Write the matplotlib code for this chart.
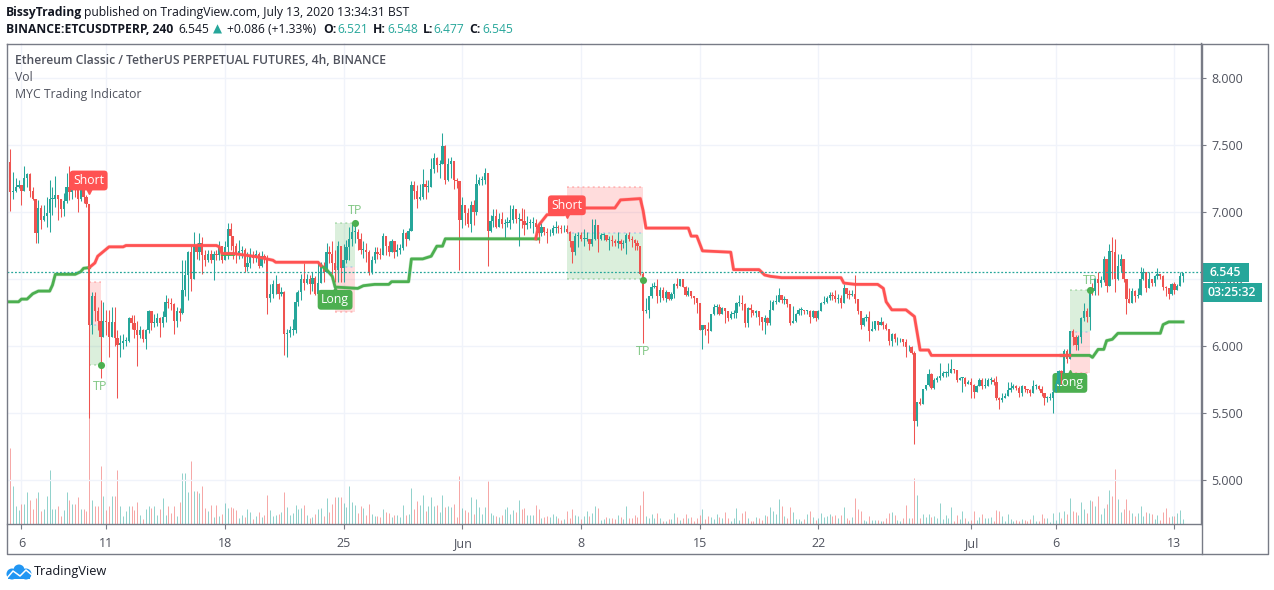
import matplotlib
matplotlib.use('Agg')
import matplotlib.pyplot as plt
from matplotlib.patches import Rectangle, Circle

FONT = 'Open Sans'
TEAL = '#26a69a'
RED = '#ef5350'
LINE_RED = '#ff5252'
LINE_GREEN = '#4caf50'
GRID = '#f0f3fa'
FRAME = '#787b86'
TEXT = '#50535e'
W, H = 1274, 590

first_open = 7.26
closes = [
    7.37,7.15,7.16,7.19,7.20,7.16,7.25,7.28,7.16,7.10,
    6.84,7.03,6.94,6.97,6.99,7.10,7.10,7.13,7.10,7.02,
    7.08,7.19,7.15,7.24,7.20,7.10,7.20,7.11,7.06,6.16,
    6.37,6.26,6.19,6.07,6.19,6.18,6.07,6.18,6.06,6.01,
    6.02,6.04,6.04,6.21,6.17,6.12,6.08,6.12,6.05,6.12,
    6.26,6.17,6.17,6.21,6.17,6.22,6.33,6.32,6.31,6.19,
    6.26,6.25,6.42,6.53,6.70,6.50,6.75,6.70,6.77,6.68,
    6.64,6.69,6.64,6.69,6.68,6.75,6.64,6.74,6.87,6.82,
    6.75,6.68,6.71,6.72,6.59,6.62,6.67,6.66,6.69,6.60,
    6.67,6.65,6.36,6.39,6.46,6.46,6.39,6.40,6.09,6.10,
    6.12,6.12,6.33,6.40,6.50,6.47,6.50,6.46,6.51,6.39,
    6.47,6.60,6.55,6.70,6.69,6.62,6.57,6.75,6.58,6.64,
    6.74,6.80,6.85,6.85,6.80,6.72,6.72,6.70,6.55,6.64,
    6.70,6.69,6.68,6.82,6.75,6.70,6.78,6.70,6.72,6.73,
    6.84,6.80,6.86,7.20,7.16,7.10,7.11,7.21,7.19,7.19,
    7.32,7.40,7.35,7.36,7.49,7.24,7.36,7.38,7.24,7.23,
    6.94,7.05,6.99,6.91,7.05,7.00,7.21,7.24,7.24,7.29,
    6.86,6.93,6.97,6.89,6.95,6.91,6.92,6.92,6.94,7.02,
    6.95,6.95,6.93,6.90,6.92,6.92,6.92,6.89,6.84,6.89,
    6.85,6.84,6.84,6.88,6.89,6.88,6.87,6.87,6.85,6.78,
    6.70,6.82,6.83,6.80,6.80,6.80,6.76,6.80,6.90,6.80,
    6.83,6.83,6.79,6.79,6.78,6.77,6.78,6.76,6.77,6.83,
    6.80,6.79,6.77,6.75,6.54,6.26,6.27,6.37,6.44,6.45,
    6.37,6.42,6.36,6.40,6.35,6.39,6.46,6.45,6.50,6.44,
    6.38,6.41,6.37,6.36,6.32,6.12,6.16,6.13,6.11,6.24,
    6.29,6.29,6.24,6.28,6.26,6.21,6.24,6.25,6.32,6.32,
    6.31,6.17,6.28,6.27,6.25,6.26,6.22,6.18,6.21,6.17,
    6.27,6.33,6.33,6.38,6.34,6.35,6.31,6.17,6.19,6.24,
    6.27,6.27,6.26,6.26,6.22,6.26,6.21,6.26,6.32,6.33,
    6.36,6.38,6.37,6.35,6.36,6.32,6.43,6.39,6.38,6.39,
    6.35,6.26,6.16,6.21,6.22,6.11,6.13,6.19,6.16,6.18,
    6.16,6.13,6.04,6.09,6.05,6.05,6.05,6.03,5.99,5.99,
    5.95,5.44,5.58,5.57,5.68,5.71,5.79,5.69,5.75,5.76,
    5.78,5.80,5.80,5.80,5.83,5.82,5.75,5.76,5.76,5.72,
    5.73,5.71,5.66,5.70,5.75,5.70,5.70,5.75,5.75,5.73,
    5.61,5.60,5.61,5.63,5.67,5.69,5.70,5.69,5.65,5.70,
    5.68,5.67,5.65,5.70,5.70,5.68,5.65,5.61,5.61,5.61,
    5.66,5.72,5.81,5.80,5.96,5.90,6.11,6.07,6.01,6.07,
    6.21,6.26,6.22,6.43,6.41,6.50,6.47,6.49,6.65,6.45,
    6.71,6.70,6.50,6.60,6.65,6.50,6.35,6.32,6.41,6.37,
    6.38,6.50,6.55,6.43,6.50,6.47,6.52,6.54,6.52,6.44,
    6.43,6.39,6.46,6.42,6.45,6.52,6.545,
]
highs = [
    7.49,7.47,7.30,7.25,7.24,7.20,7.34,7.29,7.29,7.19,
    7.10,7.09,7.05,7.05,7.11,7.24,7.19,7.27,7.13,7.10,
    7.14,7.29,7.34,7.29,7.29,7.24,7.28,7.20,7.13,7.06,
    6.40,6.40,6.29,6.34,6.33,6.27,6.27,6.29,6.29,6.12,
    6.08,6.09,6.07,6.22,6.23,6.23,6.19,6.15,6.13,6.13,
    6.27,6.26,6.24,6.25,6.22,6.26,6.38,6.36,6.36,6.32,
    6.29,6.28,6.64,6.64,6.71,6.75,6.85,6.77,6.84,6.81,
    6.72,6.72,6.72,6.71,6.72,6.78,6.74,6.78,6.92,6.92,
    6.82,6.77,6.79,6.75,6.73,6.70,6.73,6.71,6.72,6.70,
    6.71,6.69,6.68,6.46,6.49,6.53,6.47,6.44,6.41,6.13,
    6.15,6.20,6.40,6.42,6.54,6.62,6.54,6.53,6.55,6.52,
    6.62,6.63,6.63,6.77,6.75,6.78,6.72,6.78,6.75,6.76,
    6.79,6.89,6.92,6.90,6.87,6.84,6.78,6.77,6.72,6.67,
    6.74,6.74,6.73,6.84,6.82,6.78,6.80,6.78,6.76,6.76,
    6.87,6.85,6.88,7.23,7.23,7.20,7.21,7.32,7.24,7.24,
    7.40,7.44,7.41,7.39,7.59,7.50,7.40,7.41,7.38,7.25,
    7.23,7.11,7.05,7.03,7.08,7.09,7.28,7.26,7.27,7.33,
    7.29,6.98,7.02,7.02,6.99,7.00,6.95,6.96,7.05,7.05,
    7.02,6.99,7.03,7.02,6.97,6.95,6.96,6.95,6.90,6.92,
    6.89,6.88,6.87,6.90,6.93,6.90,6.90,6.90,6.90,6.86,
    6.78,6.84,6.85,6.85,6.87,6.85,6.80,6.95,6.95,6.90,
    6.84,6.84,6.83,6.82,6.83,6.80,6.85,6.80,6.79,6.84,
    6.85,6.82,6.80,6.79,6.75,6.55,6.36,6.37,6.47,6.48,
    6.50,6.44,6.44,6.42,6.40,6.40,6.47,6.51,6.50,6.50,
    6.45,6.44,6.41,6.37,6.36,6.32,6.16,6.16,6.18,6.24,
    6.31,6.31,6.31,6.29,6.28,6.26,6.26,6.27,6.33,6.38,
    6.38,6.32,6.29,6.31,6.27,6.27,6.26,6.22,6.23,6.22,
    6.34,6.34,6.38,6.43,6.38,6.37,6.35,6.31,6.30,6.25,
    6.28,6.29,6.27,6.27,6.27,6.27,6.26,6.27,6.33,6.37,
    6.37,6.40,6.40,6.42,6.39,6.38,6.46,6.43,6.42,6.42,
    6.53,6.35,6.26,6.22,6.24,6.26,6.19,6.19,6.19,6.22,
    6.19,6.17,6.13,6.10,6.10,6.07,6.06,6.05,6.05,6.01,
    6.00,5.96,5.58,5.61,5.68,5.71,5.83,5.80,5.76,5.78,
    5.87,5.81,5.81,5.87,5.90,5.83,5.82,5.77,5.77,5.77,
    5.75,5.76,5.72,5.71,5.76,5.76,5.76,5.76,5.77,5.76,
    5.78,5.62,5.65,5.65,5.73,5.73,5.72,5.71,5.70,5.71,
    5.70,5.68,5.68,5.75,5.72,5.71,5.70,5.65,5.63,5.65,
    5.68,5.75,5.82,5.82,5.98,5.98,6.11,6.13,6.08,6.08,
    6.22,6.32,6.28,6.44,6.47,6.51,6.55,6.52,6.67,6.65,
    6.76,6.81,6.80,6.69,6.69,6.65,6.50,6.43,6.43,6.42,
    6.43,6.59,6.58,6.55,6.55,6.50,6.53,6.58,6.54,6.53,
    6.45,6.43,6.47,6.48,6.46,6.55,6.548,
]
lows = [
    7.26,7.01,7.10,7.15,7.18,7.05,7.19,7.19,7.11,7.09,
    6.77,6.77,6.87,6.93,6.89,6.85,6.98,7.04,6.94,6.96,
    6.97,7.07,7.09,7.10,7.11,7.00,7.08,7.07,7.04,5.46,
    6.09,6.19,6.12,5.76,6.07,6.08,5.92,6.07,6.00,5.61,
    5.92,5.98,6.00,6.03,6.13,6.06,5.85,6.06,6.03,5.98,
    6.10,6.12,6.14,6.15,6.07,6.14,6.18,6.28,6.27,6.09,
    6.14,6.19,6.24,6.37,6.34,6.41,6.50,6.65,6.64,6.54,
    6.60,6.63,6.62,6.49,6.64,6.64,6.62,6.64,6.65,6.72,
    6.65,6.62,6.65,6.66,6.55,6.56,6.58,6.62,6.63,6.58,
    6.59,6.62,6.24,6.33,6.36,6.39,6.35,6.37,5.93,5.92,
    6.07,6.08,6.10,6.30,6.34,6.42,6.46,6.39,6.41,6.38,
    6.39,6.47,6.48,6.55,6.62,6.54,6.48,6.48,6.48,6.48,
    6.62,6.64,6.75,6.77,6.72,6.69,6.66,6.63,6.53,6.54,
    6.62,6.65,6.65,6.68,6.68,6.67,6.70,6.66,6.67,6.69,
    6.72,6.75,6.79,6.86,7.10,7.03,7.09,7.10,7.10,7.15,
    7.19,7.29,7.30,7.25,7.36,7.21,7.23,7.25,7.17,7.18,
    6.57,6.88,6.90,6.89,6.85,6.90,6.98,7.20,7.20,7.21,
    6.60,6.85,6.89,6.88,6.89,6.88,6.80,6.89,6.87,6.92,
    6.92,6.75,6.88,6.83,6.87,6.88,6.84,6.87,6.77,6.82,
    6.83,6.77,6.82,6.83,6.84,6.84,6.84,6.85,6.84,6.74,
    6.62,6.68,6.74,6.78,6.75,6.78,6.72,6.75,6.79,6.70,
    6.79,6.79,6.78,6.72,6.75,6.75,6.73,6.72,6.73,6.69,
    6.78,6.74,6.72,6.72,6.53,6.02,6.25,6.21,6.36,6.43,
    6.32,6.33,6.34,6.33,6.34,6.34,6.36,6.43,6.45,6.44,
    6.37,6.37,6.36,6.31,6.25,6.12,5.98,6.08,6.02,6.17,
    6.23,6.24,6.23,6.24,6.17,6.19,6.20,6.21,6.21,6.30,
    6.27,6.14,6.14,6.22,6.23,6.22,6.16,6.12,6.09,6.16,
    6.16,6.27,6.31,6.33,6.32,6.31,6.29,6.16,6.17,6.18,
    6.23,6.23,6.24,6.24,6.17,6.21,6.19,6.20,6.26,6.31,
    6.32,6.34,6.34,6.33,6.32,6.28,6.32,6.36,6.35,6.37,
    6.32,6.24,6.13,6.15,6.19,6.04,6.11,6.12,6.12,6.16,
    6.13,6.12,6.01,6.00,6.03,6.01,6.03,6.00,5.92,5.96,
    5.94,5.27,5.40,5.56,5.57,5.67,5.70,5.68,5.68,5.73,
    5.75,5.77,5.77,5.78,5.80,5.80,5.73,5.75,5.66,5.70,
    5.72,5.61,5.61,5.66,5.70,5.68,5.69,5.70,5.72,5.71,
    5.60,5.53,5.58,5.61,5.63,5.66,5.68,5.67,5.62,5.63,
    5.66,5.65,5.63,5.65,5.68,5.67,5.63,5.56,5.58,5.60,
    5.50,5.66,5.68,5.72,5.80,5.87,5.90,6.01,5.97,5.97,
    6.02,6.19,6.18,6.12,6.38,6.38,6.38,6.44,6.48,6.40,
    6.45,6.50,6.40,6.49,6.55,6.48,6.24,6.32,6.34,6.33,
    6.36,6.38,6.49,6.40,6.43,6.45,6.45,6.50,6.50,6.42,
    6.37,6.35,6.38,6.39,6.42,6.45,6.477,
]
volumes = [
    0,76,38,18,14,20,20,32,24,15,
    26,32,13,15,28,54,15,15,18,8,
    14,32,24,20,20,27,15,15,13,120,
    24,18,18,58,28,14,18,28,28,54,
    18,8,13,18,18,14,22,9,5,15,
    18,16,18,9,15,26,9,18,11,18,
    8,22,51,51,32,63,33,33,31,38,
    16,13,19,7,19,8,10,21,16,17,
    16,14,6,9,7,15,12,5,8,12,
    7,9,29,14,8,9,10,12,32,17,
    9,11,19,15,16,19,9,6,7,10,
    15,16,8,26,12,20,27,27,27,21,
    17,38,22,19,11,18,16,9,20,10,
    8,8,7,15,12,11,7,9,9,7,
    19,9,10,36,15,23,19,29,13,18,
    27,18,19,12,29,17,18,17,20,7,
    48,16,14,12,27,10,25,17,10,17,
    43,11,9,8,7,9,15,17,10,14,
    12,24,15,16,9,9,9,19,15,6,
    7,8,7,10,8,6,4,5,13,6,
    15,9,8,5,8,13,8,11,18,16,
    4,5,7,6,6,5,9,7,5,18,
    6,6,9,7,19,33,8,6,10,6,
    11,6,3,3,5,5,11,7,4,6,
    10,6,7,3,6,9,15,5,8,7,
    5,10,7,6,12,6,3,6,16,4,
    11,13,6,3,3,7,6,4,9,8,
    17,13,10,25,18,8,6,17,12,5,
    5,3,5,10,13,7,4,6,11,7,
    8,10,8,9,6,9,17,6,4,7,
    26,15,13,4,3,8,4,4,4,3,
    3,6,11,12,9,4,3,6,19,6,
    6,46,29,6,10,7,10,7,8,6,
    21,5,9,6,17,3,9,5,13,6,
    3,4,13,4,7,10,6,6,7,3,
    14,13,8,3,10,5,3,4,3,5,
    4,3,5,9,3,3,10,6,6,2,
    11,4,12,6,13,10,26,13,12,9,
    22,15,11,24,23,18,28,10,16,20,
    34,28,55,25,12,15,25,14,11,8,
    11,18,8,12,11,10,5,9,4,12,
    16,7,8,8,11,14,5,
]

# indicator line, candle number and price
green_1_x = [0,4,5,7,9,11,15,16,17,24,26,27,29]
green_1_y = [6.33,6.33,6.35,6.35,6.39,6.41,6.41,6.455,6.535,6.535,6.555,6.58,6.585]
red_1_x = [29,31,32,36,41,42,74,75,76,80,88,94,95,110,111]
red_1_y = [6.585,6.62,6.67,6.74,6.74,6.75,6.75,6.74,6.69,6.69,6.667,6.64,6.625,6.625,6.60]
green_2_x = [76,80]
green_2_y = [6.69,6.69]
green_3_x = [111,113,115,116,124,126,130,135,136,142,143,147,150,152,154,155,188]
green_3_y = [6.60,6.57,6.52,6.44,6.43,6.45,6.46,6.46,6.48,6.48,6.65,6.65,6.67,6.745,6.745,6.80,6.80]
red_2_x = [187,188,191,197,199,215,217,224,225,226,241,242,244,246,256,257,266,268,270,274,295,
           296,300,308,310,311,313,318,321,323,326,327,376]
red_2_y = [6.80,6.90,6.98,6.98,7.03,7.03,7.09,7.10,7.01,6.88,6.88,6.82,6.82,6.71,6.70,6.57,6.57,6.53,6.52,6.51,6.51,
           6.47,6.46,6.46,6.43,6.33,6.27,6.27,6.22,5.97,5.97,5.93,5.93]
green_4_x = [373,383,384,386,388,389,391,393,408,409,411,416]
green_4_y = [5.93,5.93,5.915,5.975,5.975,6.04,6.05,6.095,6.095,6.16,6.18,6.18]

# trade boxes: first candle, last candle, top, middle, bottom
short_1 = [29,33,6.475,6.157,5.86]
long_1 = [116,123,6.92,6.59,6.256]
short_2 = [198,225,7.19,6.84,6.50]
long_2 = [376,383,6.42,6.107,5.80]

tp_x = [33,123,225,383]
tp_y = [5.855,6.915,6.495,6.42]
tp_text_y = [5.70,7.01,5.96,6.49]

tick_candles = [5,35,77,119,161,203,245,287,341,371,413]
tick_labels = ['6','11','18','25','Jun','8','15','22','Jul','6','13']
price_ticks = [5.0,5.5,6.0,6.5,7.0,7.5,8.0]
last_price = 6.549

plt.rcParams['font.family'] = [FONT, 'DejaVu Sans']
fig = plt.figure(figsize=(W/100, H/100), dpi=100, facecolor='white')

left, right, top, bottom = 7, 1201, 43, 524
rect = [left/W, 1-bottom/H, (right-left)/W, (bottom-top)/H]

ax_vol = fig.add_axes(rect, zorder=1)
ax = fig.add_axes(rect, zorder=2)
ax.patch.set_visible(False)
xlim = (-0.1, 422.4)
ax.set_xlim(xlim)
ax.set_ylim(4.672, 8.261)
ax_vol.set_xlim(xlim)
ax_vol.set_ylim(0, bottom-top)
ax_vol.set_xticks(tick_candles)
ax_vol.set_yticks([])
ax_vol.tick_params(length=0, labelbottom=False)
ax_vol.grid(axis='x', color=GRID, lw=1)
for s in ax_vol.spines.values():
    s.set_visible(False)
ax_vol.set_axisbelow(True)

ax.set_xticks(tick_candles)
ax.set_xticklabels(tick_labels)
ax.yaxis.tick_right()
ax.set_yticks(price_ticks)
ax.set_yticklabels(['%.3f' % p for p in price_ticks])
ax.tick_params(axis='x', length=3.6, width=0.8, color=FRAME, labelcolor=TEXT, labelsize=9, pad=6)
ax.tick_params(axis='y', length=3.6, width=0.8, color=FRAME, labelcolor=TEXT, labelsize=9, pad=4)
ax.grid(axis='y', color=GRID, lw=1)
ax.set_axisbelow(True)
for s in ax.spines.values():
    s.set_color(FRAME)
    s.set_linewidth(1)
ax.spines['top'].set_visible(False)
ax.spines['left'].set_visible(False)

opens = [first_open] + closes[:-1]
colors = [TEAL if c >= o else RED for o, c in zip(opens, closes)]
idx = list(range(len(closes)))

ax_vol.vlines(idx, 0, volumes, colors=colors, lw=0.72, alpha=0.5)


def trade_box(box, top_color, bottom_color):
    x0, x1, y_top, y_mid, y_bot = box
    ax.add_patch(Rectangle((x0, y_mid), x1-x0, y_top-y_mid, fc=top_color, ec='none', alpha=0.2, zorder=1))
    ax.add_patch(Rectangle((x0, y_bot), x1-x0, y_mid-y_bot, fc=bottom_color, ec='none', alpha=0.2, zorder=1))
    ax.hlines(y_top, x0, x1, colors=top_color, lw=1.4, ls=':', alpha=0.3, zorder=1)
    ax.hlines(y_mid, x0, x1, colors='#5b9cf6', lw=1.4, ls=':', alpha=0.3, zorder=1)
    ax.hlines(y_bot, x0, x1, colors=bottom_color, lw=1.4, ls=':', alpha=0.3, zorder=1)


trade_box(short_1, LINE_RED, LINE_GREEN)
trade_box(long_1, LINE_GREEN, LINE_RED)
trade_box(short_2, LINE_RED, LINE_GREEN)
trade_box(long_2, LINE_GREEN, LINE_RED)


def tag(x, y, label, color, zorder, pointer):
    ax.text(x, y, label, color='white', fontsize=8.8, ha='center', va='center', zorder=zorder,
            bbox=dict(boxstyle='round,pad=0.28', fc=color, ec='none'))
    ax.plot([x], [y + (-0.075 if pointer == 'v' else 0.075)], marker=pointer, ms=4, color=color, zorder=zorder)


tag(28.8, 7.235, 'Short', LINE_RED, 8, 'v')
tag(116, 6.345, 'Long', LINE_GREEN, 8, '^')
tag(198, 7.05, 'Short', LINE_RED, 8, 'v')
tag(376, 5.725, 'Long', LINE_GREEN, 2, '^')

ax.vlines(idx, [min(l, o, c) for l, o, c in zip(lows, opens, closes)],
          [max(h, o, c) for h, o, c in zip(highs, opens, closes)], colors=colors, lw=0.75, zorder=3)
for i in idx:
    ax.bar(i, max(abs(closes[i]-opens[i]), 0.006), bottom=min(opens[i], closes[i]), width=0.8,
           color=colors[i], lw=0, zorder=3)

for xs, ys, color in [(green_1_x, green_1_y, LINE_GREEN), (green_2_x, green_2_y, LINE_GREEN),
                      (green_3_x, green_3_y, LINE_GREEN), (green_4_x, green_4_y, LINE_GREEN),
                      (red_1_x, red_1_y, LINE_RED), (red_2_x, red_2_y, LINE_RED)]:
    ax.plot(xs, ys, color=color, lw=2.8, alpha=0.25, zorder=4, solid_joinstyle='round')
    ax.plot(xs, ys, color=color, lw=2.0, zorder=5, solid_joinstyle='round')

ax.scatter(tp_x, tp_y, s=26, color=LINE_GREEN, lw=0, zorder=6)
for x, y in zip(tp_x, tp_text_y):
    ax.text(x, y, 'TP', color=LINE_GREEN, alpha=0.7, fontsize=9, ha='center', va='center', zorder=2)

ax.axhline(last_price, color=TEAL, lw=0.9, ls=(0, (1.5, 1.5)), zorder=6)

# everything outside the chart, in pixels of the picture
page = fig.add_axes([0, 0, 1, 1], zorder=3)
page.set_xlim(0, W)
page.set_ylim(H, 0)
page.axis('off')
page.patch.set_visible(False)

page.plot([6.5, 1267.5, 1267.5, 6.5, 6.5], [43.5, 43.5, 553.5, 553.5, 43.5], color=FRAME, lw=1)
page.plot([1201.5, 1201.5], [43.5, 553.5], color=FRAME, lw=1)

page.add_patch(Rectangle((1201.5, 263), 47.5, 19, fc=TEAL, ec='none'))
page.add_patch(Rectangle((1201.5, 283), 60.5, 19, fc=TEAL, ec='none'))
page.text(1225.5, 272.5, '6.545', color='white', fontsize=8.8, fontweight='semibold', ha='center', va='center')
page.text(1231.5, 292.5, '03:25:32', color='white', fontsize=8.8, fontweight='semibold', ha='center', va='center')

header_1 = [(6, 'BissyTrading', 'bold', '#131722'),
            (84, 'published on TradingView.com, July 13, 2020 13:34:31 BST', 'normal', '#131722')]
header_2 = [(6, 'BINANCE:ETCUSDTPERP, 240', 'bold', '#131722'), (178, '6.545', 'normal', '#131722'),
            (227, '+0.086 (+1.33%)', 'normal', '#131722'), (323, 'O:', 'bold', '#131722'),
            (337, '6.521', 'normal', TEAL), (373, 'H:', 'bold', '#131722'), (387, '6.548', 'normal', TEAL),
            (423, 'L:', 'bold', '#131722'), (433, '6.477', 'normal', TEAL), (469, 'C:', 'bold', '#131722'),
            (482, '6.545', 'normal', TEAL)]
for x, s, weight, color in header_1:
    page.text(x, 12.5, s, color=color, fontsize=8.7, fontweight=weight, ha='left', va='center')
for x, s, weight, color in header_2:
    page.text(x, 29.5, s, color=color, fontsize=8.7, fontweight=weight, ha='left', va='center')
page.text(217, 29.5, '▲', color=TEAL, fontsize=8.5, family='DejaVu Sans', ha='center', va='center')

page.text(15, 60.5, 'Ethereum Classic / TetherUS PERPETUAL FUTURES, 4h, BINANCE', color=TEXT, fontsize=8.75,
          fontweight='semibold', ha='left', va='center')
page.text(15, 77.5, 'Vol', color=TEXT, fontsize=8.8, ha='left', va='center')
page.text(15, 94.5, 'MYC Trading Indicator', color=TEXT, fontsize=8.8, ha='left', va='center')

for cx, cy, r in [(12, 574, 5.5), (19, 570, 5.5), (26, 574, 5.5)]:
    page.add_patch(Circle((cx, cy), r, fc='#2196f3', ec='none'))
page.add_patch(Rectangle((8, 574), 22, 5, fc='#2196f3', ec='none'))
page.plot([7, 13, 20, 26, 32], [578, 571, 576, 570, 575], color='white', lw=1.1)
page.text(34, 572, 'TradingView', color='#131722', fontsize=9.2, ha='left', va='center')

assert len(closes) == len(highs) == len(lows) == len(volumes), (len(closes), len(highs), len(lows), len(volumes))
fig.savefig('out.png', dpi=100)
